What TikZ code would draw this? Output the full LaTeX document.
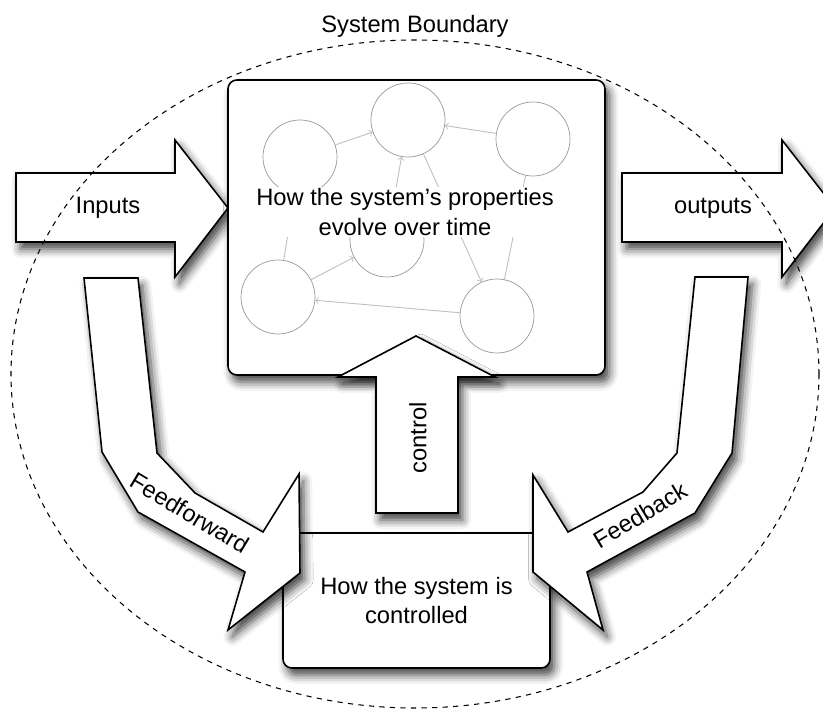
\documentclass[tikz,border=0pt]{standalone}
\usepackage{fontspec}
\setmainfont{Liberation Sans}
\usetikzlibrary{arrows}
\usetikzlibrary{positioning}
\usetikzlibrary{shadows.blur}

\begin{document}
\begin{tikzpicture}[x=0.02cm,y=-0.02cm,
        bigpart/.style={draw,fill=white,line width=0.9pt,
            blur shadow={shadow xshift=2.5pt,shadow yshift=-4pt,shadow blur radius=5pt,shadow opacity=75}},
        prop/.style={circle,draw=gray!80,minimum size=1.48cm,inner sep=0pt},
        link/.style={gray!50,line width=0.5pt},
        lbl/.style={font=\fontsize{13.5}{17}\selectfont,align=center}]
    \useasboundingbox (0,0) rectangle (823,712);
    \clip (0,0) rectangle (823,712);

    % inputs and outputs
    \draw[bigpart] (16,173) -- (175,173) -- (175,140) -- (228,208) -- (175,277) -- (175,242) -- (16,242) -- cycle;
    \draw[bigpart] (622,173) -- (782,173) -- (782,140) -- (835,208) -- (782,277) -- (782,242) -- (622,242) -- cycle;
    \node [lbl] (inlbl) at (108,208) {Inputs};
    \node [lbl] (outlbl) at (713,208) {outputs};

    % the system
    \node [bigpart,rounded corners=5pt,minimum width=7.54cm,minimum height=5.9cm] (sys) at (416.5,227.5) {};
    \node [prop] (a) at (408,120) {};
    \node [prop] (b) at (533,139) {};
    \node [prop] (c) at (300,157) {};
    \node [prop] (d) at (387,240) {};
    \node [prop] (e) at (278,297) {};
    \node [prop] (f) at (497,316) {};
    \path[->,link]
        (c) edge (a)
        (b) edge (a)
        (d) edge (a)
        (a) edge (f)
        (e) edge (d)
        (f) edge (e);
    \path[link]
        (f) edge (b)
        (e) edge (c);
    \node [lbl,fill=white,inner sep=1pt] (evolve) at (405,212) {How the system's properties\\evolve over time};

    % control
    \draw[bigpart] (376,513) -- (376,377) -- (338,377) -- (416,336) -- (495,377) -- (458,377) -- (458,513) -- cycle;
    \node [lbl,rotate=90] (ctllbl) at (418,438) {control};
    \node [bigpart,rounded corners=5pt,minimum width=5.34cm,minimum height=2.7cm,lbl] (ctrl) at (416.5,600.5) {How the system is\\controlled};

    % feedforward and feedback
    \draw[bigpart] (84,278) -- (102,452) -- (138,512) -- (245,572) -- (228,630) -- (300,573) -- (299,474) -- (263,532) -- (195,493) -- (157,453) -- (138,278) -- cycle;
    \draw[bigpart] (748,277) -- (732,453) -- (695,513) -- (587,572) -- (603,630) -- (533,572) -- (533,475) -- (568,532) -- (643,492) -- (677,453) -- (695,277) -- cycle;
    \node [lbl,rotate=-31] (fflbl) at (190,513) {Feedforward};
    \node [lbl,rotate=31] (fblbl) at (640,515) {Feedback};

    % boundary
    \draw[dash pattern=on 3pt off 3pt,line width=0.6pt] (415,374) ellipse [x radius=404,y radius=334];
    \node [lbl] (bound) at (415,26) {System Boundary};
\end{tikzpicture}
\end{document}
